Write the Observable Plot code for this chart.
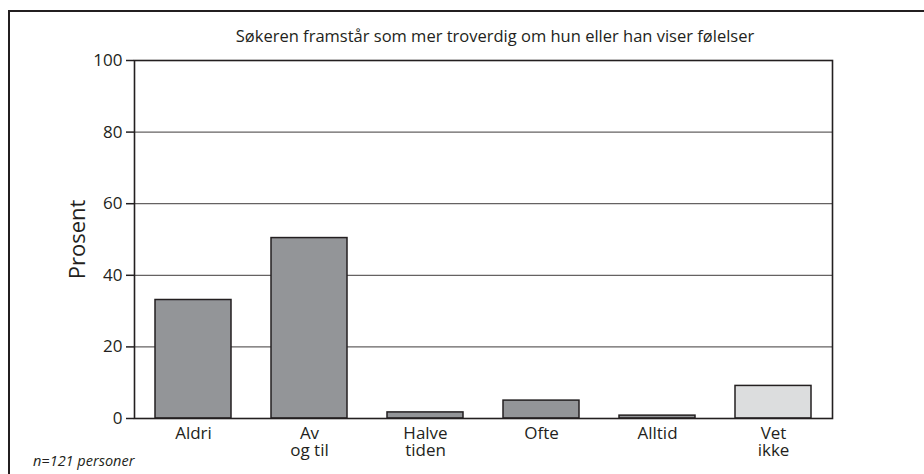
<!DOCTYPE html>
<html>
<head>
<meta charset="utf-8">
<script src="https://cdn.jsdelivr.net/npm/d3@7"></script>
<script src="https://cdn.jsdelivr.net/npm/@observablehq/plot@0.6"></script>
<style>
  body { margin: 0; background: #fff; font-family: "Open Sans", sans-serif; }
  #wrap { position: relative; width: 924px; height: 474px; overflow: hidden; }
  #frame { position: absolute; left: 8px; top: 10px; width: 940px; height: 500px; border-left: 2.5px solid #231f20; border-top: 2.5px solid #231f20; }
  #title { position: absolute; left: 146px; width: 698px; top: 24px; text-align: center; font-size: 16.5px; color: #231f20; }
  #note { position: absolute; left: 33px; top: 451px; font-size: 14.5px; font-style: italic; color: #231f20; }
  #chart { position: absolute; left: 0; top: 0; }
</style>
</head>
<body>
<div id="wrap">
  <div id="frame"></div>
  <div id="chart"></div>
  <div id="title">Søkeren framstår som mer troverdig om hun eller han viser følelser</div>
  <div id="note">n=121 personer</div>
</div>
<script>
const categories = ["Aldri", "Av\nog til", "Halve\ntiden", "Ofte", "Alltid", "Vet\nikke"];
const values = [33.1, 50.4, 1.7, 5.0, 0.8, 9.1];
const kinds = ["svar", "svar", "svar", "svar", "svar", "vetikke"];
const yTicks = [0, 20, 40, 60, 80, 100];

const data = categories.map((c, i) => ({cat: c, value: values[i], kind: kinds[i]}));

const chart = Plot.plot({
  width: 924,
  height: 474,
  marginLeft: 134,
  marginRight: 92,
  marginTop: 60,
  marginBottom: 56,
  style: {fontFamily: "'Open Sans', sans-serif", fontSize: "17px", color: "#231f20", background: "transparent"},
  x: {domain: categories, paddingInner: 0.345, paddingOuter: 0.18, label: null},
  y: {domain: [0, 100], ticks: yTicks, label: null},
  color: {domain: ["svar", "vetikke"], range: ["#939598", "#dcddde"]},
  marks: [
    Plot.gridY(yTicks, {stroke: "#231f20", strokeOpacity: 0.7, strokeWidth: 1.2}),
    Plot.barY(data, {x: "cat", y: "value", fill: "kind", stroke: "#231f20", strokeWidth: 1.5}),
    Plot.axisY(yTicks, {tickSize: 8, tickPadding: 4, fontSize: 17, stroke: "#231f20", strokeWidth: 1.5, label: null}),
    Plot.axisX({tickSize: 0, tickPadding: 8, fontSize: 17, lineHeight: 1.02, label: null}),
    Plot.text(["Prosent"], {frameAnchor: "left", textAnchor: "middle", dx: -57, rotate: -90, fontSize: 22, fill: "#231f20"}),
    Plot.frame({stroke: "#231f20", strokeWidth: 1.6})
  ]
});
document.getElementById("chart").appendChild(chart);
</script>
</body>
</html>
